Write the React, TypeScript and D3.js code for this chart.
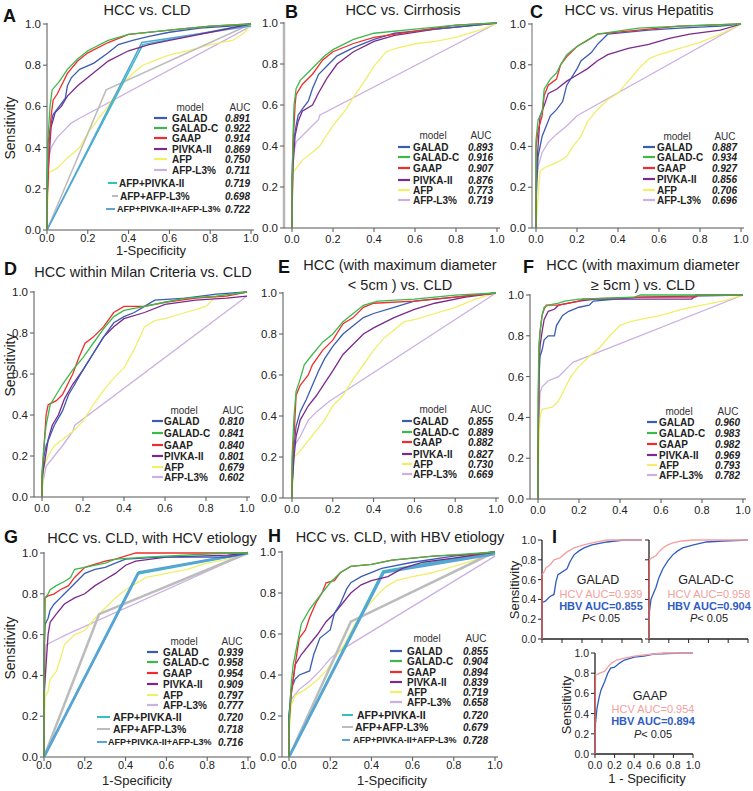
import React from "react";
import * as d3 from "d3";

type Pt = [number, number];

const FONT = "'Liberation Sans', Arial, Helvetica, sans-serif";
const AXIS = "#555";
const INK = "#222";

const MODELS = ["GALAD", "GALAD-C", "GAAP", "PIVKA-II", "AFP", "AFP-L3%"];
const COMBOS = ["AFP+PIVKA-II", "AFP+AFP-L3%", "AFP+PIVKA-II+AFP-L3%"];
const MODEL_COLORS = ["#3a5cb3", "#3db94b", "#f02d2d", "#7b2a8c", "#f1ee6a", "#cbb0e2"];
const COMBO_COLORS = ["#34bfc0", "#bcbcbc", "#5ba3d6"];
const TICKS = [0, 0.2, 0.4, 0.6, 0.8, 1.0];

// ---------- A: HCC vs. CLD ----------
const A_AUC = [0.891, 0.922, 0.914, 0.869, 0.75, 0.711];
const A_COMBO_AUC = [0.719, 0.698, 0.722];
const A_GALAD: Pt[] = [[0, 0], [0, 0.2], [0.005, 0.42], [0.02, 0.52], [0.03, 0.56], [0.06, 0.6], [0.09, 0.64], [0.1, 0.7], [0.12, 0.74], [0.16, 0.78], [0.23, 0.81], [0.3, 0.86], [0.35, 0.9], [0.42, 0.92], [0.5, 0.94], [0.6, 0.96], [0.75, 0.98], [0.9, 0.99], [1, 1]];
const A_GALADC: Pt[] = [[0, 0], [0, 0.2], [0.005, 0.45], [0.015, 0.6], [0.025, 0.68], [0.06, 0.72], [0.1, 0.78], [0.15, 0.83], [0.2, 0.87], [0.3, 0.92], [0.4, 0.95], [0.6, 0.97], [0.8, 0.99], [1, 1]];
const A_GAAP: Pt[] = [[0, 0], [0, 0.1], [0.01, 0.4], [0.02, 0.55], [0.03, 0.63], [0.05, 0.66], [0.08, 0.72], [0.1, 0.76], [0.15, 0.82], [0.2, 0.86], [0.3, 0.91], [0.4, 0.95], [0.6, 0.97], [0.8, 0.99], [1, 1]];
const A_PIVKA: Pt[] = [[0, 0], [0, 0.15], [0.01, 0.35], [0.02, 0.5], [0.04, 0.57], [0.07, 0.6], [0.1, 0.65], [0.15, 0.7], [0.2, 0.74], [0.25, 0.78], [0.3, 0.82], [0.4, 0.87], [0.5, 0.9], [0.6, 0.92], [0.8, 0.96], [0.9, 0.98], [1, 1]];
const A_AFP: Pt[] = [[0, 0], [0.005, 0.2], [0.01, 0.28], [0.05, 0.3], [0.1, 0.35], [0.16, 0.4], [0.2, 0.47], [0.26, 0.55], [0.3, 0.6], [0.33, 0.65], [0.38, 0.72], [0.42, 0.76], [0.47, 0.8], [0.52, 0.82], [0.6, 0.85], [0.69, 0.87], [0.8, 0.9], [0.91, 0.92], [0.97, 0.96], [1, 1]];
const A_AFPL3: Pt[] = [[0, 0], [0, 0.1], [0.005, 0.33], [0.02, 0.4], [0.05, 0.45], [0.08, 0.48], [0.12, 0.52], [0.155, 0.54], [1, 0.99]];
const A_AFP_PIVKA: Pt[] = [[0, 0], [0.47, 0.9], [1, 1]];
const A_AFP_L3: Pt[] = [[0, 0], [0.29, 0.68], [1, 1]];
const A_ALL: Pt[] = [[0, 0], [0.465, 0.91], [1, 0.99]];

// ---------- B: HCC vs. Cirrhosis ----------
const B_AUC = [0.893, 0.916, 0.907, 0.876, 0.773, 0.719];
const B_GALAD: Pt[] = [[0, 0], [0, 0.25], [0.005, 0.4], [0.02, 0.5], [0.03, 0.55], [0.05, 0.58], [0.08, 0.62], [0.1, 0.68], [0.13, 0.75], [0.18, 0.8], [0.22, 0.84], [0.3, 0.88], [0.4, 0.92], [0.5, 0.95], [0.6, 0.96], [0.8, 0.98], [1, 1]];
const B_GALADC: Pt[] = [[0, 0], [0, 0.2], [0.005, 0.45], [0.01, 0.6], [0.02, 0.68], [0.04, 0.72], [0.08, 0.76], [0.12, 0.8], [0.16, 0.84], [0.2, 0.87], [0.3, 0.92], [0.4, 0.95], [0.6, 0.97], [0.8, 0.99], [1, 1]];
const B_GAAP: Pt[] = [[0, 0], [0, 0.12], [0.005, 0.4], [0.015, 0.6], [0.02, 0.65], [0.05, 0.7], [0.1, 0.75], [0.15, 0.82], [0.2, 0.86], [0.3, 0.9], [0.4, 0.93], [0.6, 0.96], [0.8, 0.99], [1, 1]];
const B_PIVKA: Pt[] = [[0, 0], [0, 0.07], [0.005, 0.3], [0.015, 0.45], [0.03, 0.52], [0.05, 0.57], [0.1, 0.6], [0.13, 0.66], [0.17, 0.73], [0.22, 0.8], [0.3, 0.86], [0.4, 0.91], [0.5, 0.94], [0.7, 0.97], [0.9, 0.99], [1, 1]];
const B_AFP: Pt[] = [[0, 0], [0, 0.12], [0.005, 0.27], [0.02, 0.29], [0.05, 0.33], [0.1, 0.37], [0.135, 0.4], [0.2, 0.5], [0.265, 0.58], [0.3, 0.64], [0.35, 0.71], [0.4, 0.79], [0.46, 0.86], [0.52, 0.88], [0.61, 0.9], [0.7, 0.91], [0.8, 0.93], [0.93, 0.97], [1, 1]];
const B_AFPL3: Pt[] = [[0, 0], [0.005, 0.35], [0.02, 0.42], [0.05, 0.45], [0.1, 0.5], [0.13, 0.53], [0.135, 0.55], [1, 1]];

// ---------- C: HCC vs. virus Hepatitis ----------
const C_AUC = [0.887, 0.934, 0.927, 0.856, 0.706, 0.696];
const C_GALAD: Pt[] = [[0, 0], [0, 0.12], [0.01, 0.35], [0.02, 0.4], [0.03, 0.45], [0.05, 0.5], [0.07, 0.55], [0.1, 0.58], [0.13, 0.62], [0.15, 0.7], [0.2, 0.78], [0.22, 0.82], [0.27, 0.86], [0.3, 0.9], [0.35, 0.95], [0.45, 0.96], [0.55, 0.97], [0.7, 0.98], [0.9, 0.99], [1, 1]];
const C_GALADC: Pt[] = [[0, 0], [0, 0.43], [0.01, 0.53], [0.03, 0.57], [0.04, 0.68], [0.07, 0.73], [0.1, 0.76], [0.12, 0.8], [0.15, 0.85], [0.2, 0.89], [0.25, 0.92], [0.3, 0.95], [0.5, 0.98], [0.7, 0.99], [1, 1]];
const C_GAAP: Pt[] = [[0, 0], [0, 0.4], [0.01, 0.48], [0.03, 0.55], [0.04, 0.65], [0.06, 0.7], [0.1, 0.73], [0.12, 0.8], [0.15, 0.84], [0.2, 0.89], [0.25, 0.92], [0.3, 0.95], [0.5, 0.97], [0.7, 0.99], [1, 1]];
const C_PIVKA: Pt[] = [[0, 0], [0, 0.22], [0.01, 0.4], [0.02, 0.55], [0.04, 0.6], [0.06, 0.66], [0.1, 0.68], [0.15, 0.72], [0.2, 0.75], [0.25, 0.78], [0.3, 0.82], [0.35, 0.85], [0.45, 0.88], [0.55, 0.9], [0.65, 0.93], [0.75, 0.95], [0.9, 0.97], [1, 1]];
const C_AFP: Pt[] = [[0, 0], [0.01, 0.15], [0.02, 0.28], [0.05, 0.3], [0.1, 0.32], [0.15, 0.35], [0.18, 0.4], [0.22, 0.45], [0.25, 0.52], [0.3, 0.58], [0.35, 0.63], [0.4, 0.66], [0.45, 0.72], [0.5, 0.78], [0.55, 0.83], [0.6, 0.85], [0.7, 0.88], [0.8, 0.91], [0.9, 0.95], [1, 1]];
const C_AFPL3: Pt[] = [[0, 0], [0, 0.2], [0.01, 0.3], [0.03, 0.37], [0.06, 0.42], [0.1, 0.46], [0.15, 0.5], [0.2, 0.55], [1, 1]];

// ---------- D: HCC within Milan Criteria vs. CLD ----------
const D_AUC = [0.81, 0.841, 0.84, 0.801, 0.679, 0.602];
const D_GALAD: Pt[] = [[0, 0], [0, 0.05], [0.01, 0.2], [0.02, 0.25], [0.04, 0.3], [0.06, 0.35], [0.1, 0.42], [0.13, 0.5], [0.16, 0.55], [0.2, 0.62], [0.25, 0.7], [0.3, 0.78], [0.35, 0.85], [0.4, 0.88], [0.45, 0.9], [0.5, 0.93], [0.55, 0.96], [0.7, 0.97], [0.85, 0.99], [1, 1]];
const D_GALADC: Pt[] = [[0, 0], [0, 0.12], [0.01, 0.25], [0.02, 0.35], [0.04, 0.45], [0.07, 0.5], [0.1, 0.55], [0.15, 0.62], [0.2, 0.68], [0.25, 0.75], [0.3, 0.82], [0.35, 0.88], [0.4, 0.91], [0.5, 0.93], [0.6, 0.95], [0.7, 0.97], [0.85, 0.98], [1, 1]];
const D_GAAP: Pt[] = [[0, 0], [0, 0.1], [0.01, 0.25], [0.02, 0.4], [0.03, 0.45], [0.07, 0.47], [0.1, 0.5], [0.15, 0.6], [0.18, 0.68], [0.21, 0.75], [0.25, 0.78], [0.3, 0.83], [0.35, 0.9], [0.4, 0.93], [0.5, 0.93], [0.6, 0.95], [0.75, 0.97], [0.9, 0.98], [1, 1]];
const D_PIVKA: Pt[] = [[0, 0], [0, 0.1], [0.01, 0.15], [0.03, 0.28], [0.05, 0.35], [0.08, 0.4], [0.11, 0.48], [0.15, 0.55], [0.2, 0.62], [0.25, 0.7], [0.3, 0.78], [0.35, 0.83], [0.4, 0.87], [0.5, 0.9], [0.6, 0.94], [0.75, 0.96], [0.9, 0.97], [1, 0.98]];
const D_AFP: Pt[] = [[0, 0], [0.01, 0.15], [0.03, 0.2], [0.06, 0.25], [0.1, 0.28], [0.15, 0.32], [0.2, 0.37], [0.25, 0.45], [0.3, 0.52], [0.35, 0.58], [0.4, 0.63], [0.45, 0.72], [0.5, 0.83], [0.55, 0.86], [0.6, 0.87], [0.7, 0.9], [0.8, 0.93], [0.85, 0.98], [1, 1]];
const D_AFPL3: Pt[] = [[0, 0], [0, 0.05], [0.02, 0.15], [0.06, 0.2], [0.1, 0.25], [0.15, 0.32], [0.16, 0.35], [1, 0.98]];

// ---------- E: HCC (max diameter < 5cm) vs. CLD ----------
const E_AUC = [0.855, 0.889, 0.882, 0.827, 0.73, 0.669];
const E_GALAD: Pt[] = [[0, 0], [0, 0.05], [0.01, 0.25], [0.02, 0.35], [0.04, 0.42], [0.07, 0.48], [0.1, 0.55], [0.13, 0.62], [0.16, 0.68], [0.2, 0.74], [0.25, 0.8], [0.3, 0.84], [0.35, 0.88], [0.4, 0.9], [0.5, 0.93], [0.6, 0.96], [0.8, 0.98], [1, 1]];
const E_GALADC: Pt[] = [[0, 0], [0, 0.2], [0.01, 0.4], [0.02, 0.52], [0.04, 0.58], [0.06, 0.65], [0.1, 0.7], [0.15, 0.76], [0.2, 0.8], [0.25, 0.86], [0.3, 0.9], [0.35, 0.94], [0.42, 0.96], [0.6, 0.97], [0.8, 0.99], [1, 1]];
const E_GAAP: Pt[] = [[0, 0], [0, 0.15], [0.01, 0.3], [0.02, 0.5], [0.04, 0.55], [0.08, 0.6], [0.1, 0.65], [0.15, 0.72], [0.2, 0.77], [0.25, 0.85], [0.3, 0.88], [0.35, 0.93], [0.4, 0.95], [0.6, 0.96], [0.8, 0.98], [1, 1]];
const E_PIVKA: Pt[] = [[0, 0], [0, 0.05], [0.01, 0.2], [0.02, 0.3], [0.04, 0.38], [0.08, 0.45], [0.12, 0.5], [0.16, 0.56], [0.2, 0.62], [0.25, 0.7], [0.3, 0.75], [0.35, 0.8], [0.4, 0.83], [0.5, 0.88], [0.6, 0.92], [0.7, 0.95], [0.85, 0.98], [1, 1]];
const E_AFP: Pt[] = [[0, 0], [0.01, 0.2], [0.04, 0.23], [0.08, 0.28], [0.12, 0.33], [0.16, 0.38], [0.2, 0.45], [0.25, 0.5], [0.3, 0.58], [0.35, 0.65], [0.4, 0.72], [0.45, 0.78], [0.5, 0.82], [0.55, 0.86], [0.6, 0.87], [0.7, 0.9], [0.8, 0.93], [0.9, 0.97], [1, 1]];
const E_AFPL3: Pt[] = [[0, 0], [0, 0.1], [0.01, 0.25], [0.04, 0.3], [0.08, 0.38], [0.12, 0.42], [0.18, 0.47], [1, 1]];

// ---------- F: HCC (max diameter >= 5cm) vs. CLD ----------
const F_AUC = [0.96, 0.983, 0.982, 0.969, 0.793, 0.782];
const F_GALAD: Pt[] = [[0, 0], [0, 0.2], [0.005, 0.6], [0.01, 0.7], [0.02, 0.73], [0.03, 0.78], [0.05, 0.8], [0.08, 0.8], [0.09, 0.85], [0.12, 0.9], [0.15, 0.92], [0.2, 0.94], [0.25, 0.95], [0.27, 0.97], [0.38, 0.98], [0.5, 0.99], [1, 1]];
const F_GALADC: Pt[] = [[0, 0], [0, 0.5], [0.005, 0.75], [0.01, 0.82], [0.02, 0.9], [0.03, 0.94], [0.05, 0.95], [0.1, 0.96], [0.13, 0.97], [0.2, 0.98], [0.47, 0.99], [0.5, 1], [1, 1]];
const F_GAAP: Pt[] = [[0, 0], [0, 0.2], [0.005, 0.75], [0.01, 0.82], [0.02, 0.9], [0.03, 0.93], [0.04, 0.95], [0.1, 0.95], [0.2, 0.97], [0.22, 0.98], [0.5, 0.99], [0.77, 0.99], [0.78, 1], [1, 1]];
const F_PIVKA: Pt[] = [[0, 0], [0, 0.15], [0.005, 0.65], [0.01, 0.75], [0.02, 0.82], [0.03, 0.88], [0.05, 0.92], [0.08, 0.93], [0.1, 0.95], [0.15, 0.96], [0.2, 0.97], [0.28, 0.98], [0.75, 0.98], [0.77, 1], [1, 1]];
const F_AFP: Pt[] = [[0, 0], [0.005, 0.3], [0.01, 0.4], [0.02, 0.44], [0.07, 0.45], [0.1, 0.48], [0.12, 0.52], [0.16, 0.6], [0.2, 0.65], [0.25, 0.7], [0.3, 0.74], [0.35, 0.8], [0.4, 0.85], [0.45, 0.87], [0.5, 0.88], [0.6, 0.9], [0.7, 0.93], [0.8, 0.95], [0.9, 0.97], [1, 1]];
const F_AFPL3: Pt[] = [[0, 0], [0, 0.2], [0.005, 0.4], [0.01, 0.52], [0.02, 0.55], [0.05, 0.58], [0.1, 0.6], [0.15, 0.65], [0.17, 0.67], [1, 1]];

// ---------- G: HCC vs. CLD, HCV etiology ----------
const G_AUC = [0.939, 0.958, 0.954, 0.909, 0.797, 0.777];
const G_COMBO_AUC = [0.72, 0.718, 0.716];
const G_GALAD: Pt[] = [[0, 0], [0, 0.5], [0.005, 0.65], [0.02, 0.68], [0.03, 0.72], [0.05, 0.75], [0.08, 0.78], [0.1, 0.8], [0.13, 0.83], [0.16, 0.86], [0.2, 0.9], [0.25, 0.92], [0.3, 0.93], [0.35, 0.95], [0.4, 0.97], [0.57, 0.98], [0.9, 0.98], [1, 1]];
const G_GALADC: Pt[] = [[0, 0], [0, 0.52], [0.005, 0.78], [0.02, 0.8], [0.03, 0.82], [0.06, 0.84], [0.1, 0.86], [0.13, 0.88], [0.15, 0.92], [0.2, 0.93], [0.3, 0.95], [0.35, 0.97], [0.5, 0.98], [0.9, 1], [1, 1]];
const G_GAAP: Pt[] = [[0, 0], [0, 0.3], [0.005, 0.78], [0.02, 0.79], [0.05, 0.8], [0.08, 0.82], [0.12, 0.84], [0.15, 0.88], [0.2, 0.93], [0.3, 0.96], [0.35, 0.97], [0.45, 1], [0.9, 1], [1, 1]];
const G_PIVKA: Pt[] = [[0, 0], [0, 0.3], [0.01, 0.45], [0.02, 0.6], [0.03, 0.66], [0.06, 0.7], [0.1, 0.75], [0.15, 0.78], [0.2, 0.8], [0.25, 0.84], [0.3, 0.87], [0.35, 0.9], [0.4, 0.94], [0.45, 0.96], [0.6, 0.98], [0.9, 0.99], [1, 1]];
const G_AFP: Pt[] = [[0, 0], [0, 0.1], [0.005, 0.3], [0.02, 0.32], [0.03, 0.38], [0.06, 0.42], [0.08, 0.48], [0.1, 0.55], [0.15, 0.6], [0.2, 0.62], [0.25, 0.68], [0.3, 0.73], [0.35, 0.78], [0.4, 0.82], [0.45, 0.85], [0.5, 0.88], [0.6, 0.9], [0.7, 0.92], [0.8, 0.95], [0.9, 0.97], [1, 1]];
const G_AFPL3: Pt[] = [[0, 0], [0, 0.1], [0.005, 0.45], [0.01, 0.55], [0.05, 0.57], [0.11, 0.6], [1, 1]];
const G_AFP_PIVKA: Pt[] = [[0, 0], [0.46, 0.9], [1, 1]];
const G_AFP_L3: Pt[] = [[0, 0], [0.27, 0.7], [1, 1]];
const G_ALL: Pt[] = [[0, 0], [0.465, 0.905], [1, 1]];

// ---------- H: HCC vs. CLD, HBV etiology ----------
const H_AUC = [0.855, 0.904, 0.894, 0.839, 0.719, 0.658];
const H_COMBO_AUC = [0.72, 0.679, 0.728];
const H_GALAD: Pt[] = [[0, 0], [0, 0.2], [0.01, 0.33], [0.03, 0.38], [0.05, 0.4], [0.1, 0.42], [0.12, 0.5], [0.15, 0.58], [0.2, 0.62], [0.22, 0.7], [0.25, 0.75], [0.28, 0.82], [0.3, 0.85], [0.35, 0.88], [0.45, 0.92], [0.6, 0.95], [0.8, 0.98], [1, 1]];
const H_GALADC: Pt[] = [[0, 0], [0, 0.15], [0.01, 0.35], [0.02, 0.45], [0.04, 0.55], [0.06, 0.65], [0.1, 0.72], [0.13, 0.76], [0.16, 0.8], [0.2, 0.85], [0.25, 0.9], [0.3, 0.93], [0.4, 0.94], [0.5, 0.96], [0.7, 0.98], [0.85, 0.99], [1, 1]];
const H_GAAP: Pt[] = [[0, 0], [0, 0.15], [0.01, 0.3], [0.03, 0.45], [0.05, 0.58], [0.08, 0.62], [0.1, 0.68], [0.13, 0.75], [0.16, 0.8], [0.18, 0.85], [0.22, 0.86], [0.25, 0.9], [0.3, 0.93], [0.4, 0.94], [0.5, 0.96], [0.7, 0.98], [0.9, 0.99], [1, 1]];
const H_PIVKA: Pt[] = [[0, 0], [0, 0.2], [0.01, 0.3], [0.03, 0.45], [0.06, 0.5], [0.1, 0.55], [0.14, 0.6], [0.18, 0.66], [0.22, 0.7], [0.26, 0.75], [0.3, 0.8], [0.35, 0.84], [0.4, 0.86], [0.48, 0.88], [0.55, 0.92], [0.65, 0.95], [0.8, 0.97], [1, 1]];
const H_AFP: Pt[] = [[0, 0], [0, 0.1], [0.01, 0.25], [0.03, 0.3], [0.08, 0.33], [0.13, 0.37], [0.18, 0.42], [0.22, 0.48], [0.27, 0.55], [0.32, 0.65], [0.37, 0.72], [0.42, 0.78], [0.47, 0.83], [0.52, 0.86], [0.6, 0.88], [0.7, 0.9], [0.8, 0.93], [0.9, 0.96], [1, 1]];
const H_AFPL3: Pt[] = [[0, 0], [0, 0.15], [0.01, 0.28], [0.05, 0.33], [0.1, 0.37], [0.15, 0.42], [0.2, 0.48], [0.25, 0.52], [1, 0.98]];
const H_AFP_PIVKA: Pt[] = [[0, 0], [0.457, 0.905], [1, 1]];
const H_AFP_L3: Pt[] = [[0, 0], [0.3, 0.66], [1, 1]];
const H_ALL: Pt[] = [[0, 0], [0.46, 0.9], [1, 0.99]];

// ---------- I: HCV vs HBV ----------
const I_NAMES = ["GALAD", "GALAD-C", "GAAP"];
const I_HCV_AUC = [0.939, 0.958, 0.954];
const I_HBV_AUC = [0.855, 0.904, 0.894];
const I_HCV_COLOR = "#f4a0a0";
const I_HBV_COLOR = "#2f5cc2";
const I1_HCV: Pt[] = [[0, 0], [0, 0.65], [0.017, 0.67], [0.04, 0.72], [0.083, 0.75], [0.12, 0.8], [0.18, 0.82], [0.25, 0.88], [0.32, 0.92], [0.42, 0.95], [0.5, 0.97], [0.65, 1], [1, 1]];
const I1_HBV: Pt[] = [[0, 0], [0, 0.37], [0.03, 0.38], [0.08, 0.43], [0.12, 0.45], [0.14, 0.58], [0.16, 0.65], [0.25, 0.71], [0.28, 0.78], [0.32, 0.85], [0.37, 0.89], [0.42, 0.92], [0.5, 0.95], [0.65, 0.98], [0.82, 1], [1, 1]];
const I2_HCV: Pt[] = [[0, 0], [0.005, 0.8], [0.03, 0.82], [0.07, 0.84], [0.1, 0.88], [0.14, 0.92], [0.19, 0.95], [0.24, 0.97], [0.33, 0.99], [0.44, 1], [1, 1]];
const I2_HBV: Pt[] = [[0, 0], [0.005, 0.28], [0.02, 0.4], [0.04, 0.45], [0.07, 0.52], [0.1, 0.62], [0.14, 0.71], [0.19, 0.79], [0.24, 0.85], [0.29, 0.89], [0.34, 0.92], [0.45, 0.95], [0.58, 0.98], [0.75, 0.99], [1, 1]];
const I3_HCV: Pt[] = [[0, 0], [0.005, 0.78], [0.05, 0.8], [0.1, 0.82], [0.13, 0.86], [0.17, 0.9], [0.22, 0.93], [0.3, 0.95], [0.4, 0.97], [0.5, 0.98], [0.7, 1], [1, 1]];
const I3_HBV: Pt[] = [[0, 0], [0.005, 0.3], [0.02, 0.45], [0.04, 0.55], [0.06, 0.63], [0.1, 0.72], [0.13, 0.8], [0.16, 0.85], [0.2, 0.86], [0.25, 0.9], [0.3, 0.93], [0.4, 0.96], [0.5, 0.97], [0.6, 0.99], [0.88, 1], [1, 1]];

type Extra = { y: number; l1: number; l2: number; tx: number; fs: number };
type Panel = {
  letter: string; lx: number; ly: number;
  title: string[]; tcx: number; tys: number[];
  x0: number; x1: number; y0: number; y1: number; axisX: number; axisW?: number; axisC?: string;
  tickDy: number;
  curves: Pt[][]; aucs: number[];
  combos?: Pt[][]; comboAucs?: number[]; comboW?: number;
  xlab?: [number, number]; ylab?: [number, number];
  lg: { hy: number; mc: number; ac: number; rows: number[]; l1: number; l2: number; tx: number; ar: number; fs: number };
  extras?: Extra[];
};

const PANELS: Panel[] = [
  {
    letter: "A", lx: 3, ly: 22, title: ["HCC vs. CLD"], tcx: 147, tys: [15],
    x0: 47, x1: 251, y0: 230, y1: 24, axisX: 47, tickDy: 8,
    curves: [A_GALAD, A_GALADC, A_GAAP, A_PIVKA, A_AFP, A_AFPL3], aucs: A_AUC,
    combos: [A_AFP_PIVKA, A_AFP_L3, A_ALL], comboAucs: A_COMBO_AUC, comboW: 1.5,
    xlab: [151, 255], ylab: [10, 128],
    lg: { hy: 107, mc: 190, ac: 240, rows: [118, 128, 138, 149, 159, 170], l1: 154, l2: 167, tx: 172, ar: 250, fs: 10 },
    extras: [
      { y: 183, l1: 108, l2: 117, tx: 119, fs: 10 },
      { y: 196, l1: 112, l2: 118, tx: 120, fs: 10 },
      { y: 209, l1: 106, l2: 115, tx: 117, fs: 9 },
    ],
  },
  {
    letter: "B", lx: 285, ly: 18, title: ["HCC vs. Cirrhosis"], tcx: 403, tys: [15],
    x0: 292, x1: 497, y0: 228, y1: 23, axisX: 284, axisW: 2.5, axisC: "#b5b5b5", tickDy: 11,
    curves: [B_GALAD, B_GALADC, B_GAAP, B_PIVKA, B_AFP, B_AFPL3], aucs: B_AUC,
    lg: { hy: 135, mc: 433, ac: 481, rows: [147, 157, 168, 180, 190, 200], l1: 398, l2: 410, tx: 413, ar: 493, fs: 10 },
  },
  {
    letter: "C", lx: 530, ly: 18, title: ["HCC vs. virus Hepatitis"], tcx: 639, tys: [15],
    x0: 536, x1: 741, y0: 228, y1: 24, axisX: 532, axisW: 2, axisC: "#b5b5b5", tickDy: 11,
    curves: [C_GALAD, C_GALADC, C_GAAP, C_PIVKA, C_AFP, C_AFPL3], aucs: C_AUC,
    lg: { hy: 136, mc: 677, ac: 725, rows: [147, 157, 168, 179, 190, 200], l1: 643, l2: 655, tx: 657, ar: 737, fs: 10 },
  },
  {
    letter: "D", lx: 4, ly: 275, title: ["HCC within Milan Criteria vs. CLD"], tcx: 143, tys: [277],
    x0: 42, x1: 247, y0: 497, y1: 292, axisX: 34, tickDy: 11,
    curves: [D_GALAD, D_GALADC, D_GAAP, D_PIVKA, D_AFP, D_AFPL3], aucs: D_AUC,
    ylab: [10, 365],
    lg: { hy: 410, mc: 184, ac: 233, rows: [421, 433, 445, 456, 467, 477], l1: 152, l2: 163, tx: 164, ar: 244, fs: 10 },
  },
  {
    letter: "E", lx: 278, ly: 273, title: ["HCC (with maximum diameter", "< 5cm ) vs. CLD"], tcx: 400, tys: [270, 290],
    x0: 292, x1: 496, y0: 498, y1: 293, axisX: 283, tickDy: 11,
    curves: [E_GALAD, E_GALADC, E_GAAP, E_PIVKA, E_AFP, E_AFPL3], aucs: E_AUC,
    lg: { hy: 409, mc: 433, ac: 481, rows: [421, 432, 442, 454, 464, 474], l1: 402, l2: 412, tx: 413, ar: 493, fs: 10 },
  },
  {
    letter: "F", lx: 523, ly: 273, title: ["HCC (with maximum diameter", "\u2265 5cm ) vs. CLD"], tcx: 643, tys: [270, 290],
    x0: 538, x1: 743, y0: 499, y1: 295, axisX: 530, tickDy: 11,
    curves: [F_GALAD, F_GALADC, F_GAAP, F_PIVKA, F_AFP, F_AFPL3], aucs: F_AUC,
    lg: { hy: 411, mc: 679, ac: 728, rows: [422, 433, 444, 455, 465, 475], l1: 647, l2: 657, tx: 659, ar: 740, fs: 10 },
  },
  {
    letter: "G", lx: 4, ly: 543, title: ["HCC vs. CLD, with HCV etiology"], tcx: 152, tys: [543],
    x0: 44, x1: 248, y0: 757, y1: 553, axisX: 44, tickDy: 8,
    curves: [G_GALAD, G_GALADC, G_GAAP, G_PIVKA, G_AFP, G_AFPL3], aucs: G_AUC,
    combos: [G_AFP_PIVKA, G_AFP_L3, G_ALL], comboAucs: G_COMBO_AUC, comboW: 2.5,
    xlab: [137, 785], ylab: [10, 648],
    lg: { hy: 641, mc: 184, ac: 232, rows: [652, 662, 673, 684, 695, 705], l1: 147, l2: 158, tx: 163, ar: 243, fs: 10 },
    extras: [
      { y: 717, l1: 97, l2: 110, tx: 113, fs: 10.5 },
      { y: 729, l1: 97, l2: 110, tx: 113, fs: 10.5 },
      { y: 742, l1: 97, l2: 107, tx: 108, fs: 9 },
    ],
  },
  {
    letter: "H", lx: 268, ly: 542, title: ["HCC vs. CLD, with HBV etiology"], tcx: 400, tys: [542],
    x0: 289, x1: 495, y0: 757, y1: 552, axisX: 282, tickDy: 8,
    curves: [H_GALAD, H_GALADC, H_GAAP, H_PIVKA, H_AFP, H_AFPL3], aucs: H_AUC,
    combos: [H_AFP_PIVKA, H_AFP_L3, H_ALL], comboAucs: H_COMBO_AUC, comboW: 2.5,
    xlab: [392, 785],
    lg: { hy: 638, mc: 427, ac: 476, rows: [651, 661, 672, 682, 692, 702], l1: 390, l2: 402, tx: 407, ar: 488, fs: 10 },
    extras: [
      { y: 715, l1: 342, l2: 353, tx: 357, fs: 10.5 },
      { y: 727, l1: 342, l2: 353, tx: 355, fs: 10.5 },
      { y: 740, l1: 342, l2: 350, tx: 353, fs: 9 },
    ],
  },
];

type Mini = {
  x0: number; x1: number; y0: number; y1: number;
  hcv: Pt[]; hbv: Pt[]; idx: number;
  yLabels: boolean; xLabels: boolean; ylab?: [number, number];
  tc: number; ty: number[]; startTop: number;
};

const MINIS: Mini[] = [
  { x0: 542, x1: 642, y0: 639, y1: 540, hcv: I1_HCV, hbv: I1_HBV, idx: 0, yLabels: true, xLabels: false, ylab: [514, 590], tc: 601, ty: [580, 594, 606, 618], startTop: 0.65 },
  { x0: 649, x1: 748, y0: 639, y1: 540, hcv: I2_HCV, hbv: I2_HBV, idx: 1, yLabels: false, xLabels: false, tc: 709, ty: [580, 594, 606, 618], startTop: 0.8 },
  { x0: 595, x1: 693, y0: 754, y1: 653, hcv: I3_HCV, hbv: I3_HBV, idx: 2, yLabels: true, xLabels: true, ylab: [566, 705], tc: 653, ty: [696, 709, 721, 734], startTop: 0.78 },
];

const fmt1 = d3.format(".1f");
const fmt3 = d3.format(".3f");

function RocPanel({ p }: { p: Panel }) {
  const x = d3.scaleLinear().domain([0, 1]).range([p.x0, p.x1]);
  const y = d3.scaleLinear().domain([0, 1]).range([p.y0, p.y1]);
  const line = d3.line<Pt>().x(d => x(d[0])).y(d => y(d[1]));
  const lg = p.lg;
  const axC = p.axisC || AXIS;
  return (
    <g>
      <line x1={p.axisX} x2={p.axisX} y1={p.y0} y2={p.y1 - 1} stroke={axC} strokeWidth={p.axisW || 1} />
      <line x1={p.axisX} x2={p.x1 + 3} y1={p.y0} y2={p.y0} stroke={AXIS} strokeWidth={1} />
      {TICKS.map(t => (
        <g key={"yt" + t}>
          <line x1={p.axisX - 4} x2={p.axisX} y1={y(t)} y2={y(t)} stroke={AXIS} />
          <text x={p.axisX - 6} y={y(t)} textAnchor="end" dominantBaseline="central" fontSize={11.5} fill={INK}>{fmt1(t)}</text>
        </g>
      ))}
      {TICKS.map(t => (
        <g key={"xt" + t}>
          <line x1={x(t)} x2={x(t)} y1={p.y0} y2={p.y0 + 4} stroke={AXIS} />
          <text x={x(t)} y={p.y0 + p.tickDy} textAnchor="middle" dominantBaseline="central" fontSize={11} fill={INK}>{fmt1(t)}</text>
        </g>
      ))}
      {/* curves: AFP-L3%, AFP, combos, PIVKA-II, GALAD, GAAP, GALAD-C */}
      {[5, 4].map(i => (
        <path key={"c" + i} d={line(p.curves[i]) || ""} fill="none" stroke={MODEL_COLORS[i]} strokeWidth={1.3} />
      ))}
      {p.combos && [1, 0, 2].map(i => (
        <path key={"k" + i} d={line(p.combos![i]) || ""} fill="none" stroke={COMBO_COLORS[i]} strokeWidth={p.comboW} />
      ))}
      {[3, 0, 2, 1].map(i => (
        <path key={"c" + i} d={line(p.curves[i]) || ""} fill="none" stroke={MODEL_COLORS[i]} strokeWidth={1.3} />
      ))}
      {/* legend */}
      <text x={lg.mc} y={lg.hy} textAnchor="middle" dominantBaseline="central" fontSize={lg.fs} fill="#333">model</text>
      <text x={lg.ac} y={lg.hy} textAnchor="middle" dominantBaseline="central" fontSize={lg.fs} fill="#333">AUC</text>
      {MODELS.map((m, i) => (
        <g key={"lg" + m}>
          <line x1={lg.l1} x2={lg.l2} y1={lg.rows[i]} y2={lg.rows[i]} stroke={MODEL_COLORS[i]} strokeWidth={2.2} />
          <text x={lg.tx} y={lg.rows[i]} dominantBaseline="central" fontSize={lg.fs} fontWeight="bold" fill={INK}>{m}</text>
          <text x={lg.ar} y={lg.rows[i]} textAnchor="end" dominantBaseline="central" fontSize={lg.fs} fontWeight="bold" fontStyle="italic" fill={INK}>{fmt3(p.aucs[i])}</text>
        </g>
      ))}
      {p.extras && p.extras.map((e, i) => (
        <g key={"ex" + i}>
          <line x1={e.l1} x2={e.l2} y1={e.y} y2={e.y} stroke={COMBO_COLORS[i]} strokeWidth={2} />
          <text x={e.tx} y={e.y} dominantBaseline="central" fontSize={e.fs} fontWeight="bold" fill={INK}>{COMBOS[i]}</text>
          <text x={lg.ar} y={e.y} textAnchor="end" dominantBaseline="central" fontSize={lg.fs} fontWeight="bold" fontStyle="italic" fill={INK}>{fmt3(p.comboAucs![i])}</text>
        </g>
      ))}
      {/* titles */}
      <text x={p.lx} y={p.ly} fontSize={18} fontWeight="bold" fill="#111">{p.letter}</text>
      {p.title.map((t, i) => (
        <text key={"t" + i} x={p.tcx} y={p.tys[i]} textAnchor="middle" fontSize={14.5} fill={INK}>{t}</text>
      ))}
      {p.xlab && <text x={p.xlab[0]} y={p.xlab[1]} textAnchor="middle" fontSize={13} fill={INK}>1-Specificity</text>}
      {p.ylab && (
        <text transform={`translate(${p.ylab[0]},${p.ylab[1]}) rotate(-90)`} textAnchor="middle" dominantBaseline="central" fontSize={14} fill={INK}>Sensitivity</text>
      )}
    </g>
  );
}

function MiniPanel({ m }: { m: Mini }) {
  const x = d3.scaleLinear().domain([0, 1]).range([m.x0, m.x1]);
  const y = d3.scaleLinear().domain([0, 1]).range([m.y0, m.y1]);
  const line = d3.line<Pt>().x(d => x(d[0])).y(d => y(d[1]));
  return (
    <g>
      <line x1={m.x0} x2={m.x0} y1={m.y0} y2={m.y1} stroke="#222" strokeWidth={1.3} />
      <line x1={m.x0} x2={m.x1} y1={m.y0} y2={m.y0} stroke="#222" strokeWidth={1.3} />
      {TICKS.map(t => (
        <g key={"y" + t}>
          <line x1={m.x0 - 4} x2={m.x0} y1={y(t)} y2={y(t)} stroke="#222" />
          {m.yLabels && <text x={m.x0 - 6} y={y(t)} textAnchor="end" dominantBaseline="central" fontSize={10.5} fill={INK}>{fmt1(t)}</text>}
        </g>
      ))}
      {TICKS.map(t => (
        <g key={"x" + t}>
          <line x1={x(t)} x2={x(t)} y1={m.y0} y2={m.y0 + 4} stroke="#222" />
          {m.xLabels && <text x={x(t)} y={m.y0 + 11} textAnchor="middle" dominantBaseline="central" fontSize={10.5} fill={INK}>{fmt1(t)}</text>}
        </g>
      ))}
      <path d={line(m.hbv) || ""} fill="none" stroke={I_HBV_COLOR} strokeWidth={1.3} />
      <path d={line(m.hcv) || ""} fill="none" stroke={I_HCV_COLOR} strokeWidth={1.3} />
      <line x1={m.x0} x2={m.x0} y1={m.y0} y2={y(m.startTop)} stroke="#b04040" strokeWidth={1.2} />
      <text x={m.tc - 3} y={m.ty[0]} textAnchor="middle" dominantBaseline="central" fontSize={12.5} fill={INK}>{I_NAMES[m.idx]}</text>
      <text x={m.tc} y={m.ty[1]} textAnchor="middle" dominantBaseline="central" fontSize={11} fill={I_HCV_COLOR}>{"HCV AUC=" + fmt3(I_HCV_AUC[m.idx])}</text>
      <text x={m.tc} y={m.ty[2]} textAnchor="middle" dominantBaseline="central" fontSize={11} fontWeight="bold" fill={I_HBV_COLOR}>{"HBV AUC=" + fmt3(I_HBV_AUC[m.idx])}</text>
      <text x={m.tc} y={m.ty[3]} textAnchor="middle" dominantBaseline="central" fontSize={11} fill={INK}>
        <tspan fontStyle="italic">P</tspan>{"< 0.05"}
      </text>
      {m.ylab && (
        <text transform={`translate(${m.ylab[0]},${m.ylab[1]}) rotate(-90)`} textAnchor="middle" dominantBaseline="central" fontSize={13} fill={INK}>Sensitivity</text>
      )}
    </g>
  );
}

export default function App() {
  return (
    <svg width={753} height={791} style={{ position: "absolute", left: 0, top: 0, background: "#fff", fontFamily: FONT }}>
      <rect width={753} height={791} fill="#fff" />
      {PANELS.map(p => <RocPanel key={p.letter} p={p} />)}
      {MINIS.map((m, i) => <MiniPanel key={"m" + i} m={m} />)}
      <text x={552} y={543} fontSize={18} fontWeight="bold" fill="#111">I</text>
      <text x={647} y={783} textAnchor="middle" fontSize={13} fill={INK}>1 - Specificity</text>
    </svg>
  );
}
